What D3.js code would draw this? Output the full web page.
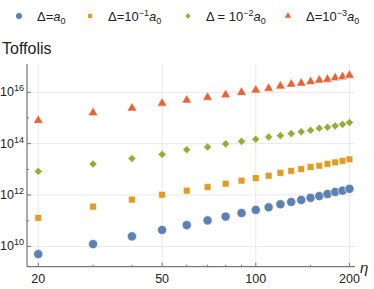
<!DOCTYPE html>
<html>
<head>
<meta charset="utf-8">
<script src="https://d3js.org/d3.v7.min.js"></script>
<style>
  body { margin: 0; background: #fff; }
  text { font-family: "Liberation Sans", Arial, sans-serif; }
</style>
</head>
<body>
<svg width="374" height="289"></svg>
<script>
// eta values (x)
const eta = [20, 30, 40, 50, 60, 70, 80, 90, 100, 110, 120, 130, 140, 150, 160, 170, 180, 190, 200];

// log10 of Toffoli counts
const logA0 = [9.70, 10.09, 10.39, 10.64, 10.83, 11.01, 11.16, 11.30, 11.42, 11.52, 11.64, 11.73, 11.81, 11.89, 11.96, 12.04, 12.12, 12.17, 12.24];
const logA1 = [11.11, 11.55, 11.82, 12.01, 12.17, 12.31, 12.44, 12.56, 12.66, 12.75, 12.86, 12.94, 13.01, 13.09, 13.14, 13.21, 13.27, 13.33, 13.39];
const logA2 = [12.92, 13.21, 13.42, 13.58, 13.76, 13.87, 13.99, 14.09, 14.17, 14.26, 14.31, 14.39, 14.46, 14.52, 14.60, 14.64, 14.69, 14.75, 14.82];
const logA3 = [14.92, 15.22, 15.40, 15.59, 15.71, 15.82, 15.92, 16.01, 16.10, 16.17, 16.26, 16.33, 16.37, 16.43, 16.49, 16.52, 16.58, 16.62, 16.68];

const xMajor = [20, 50, 100, 200];
const xMinor = [30, 40, 60, 70, 80, 90, 150];
const yMajor = [10, 12, 14, 16];
const yMinor = [11, 13, 15];

const series = [
  { vals: logA0, color: "#5E81B5", shape: "circle",   size: 66, label: ["Δ=", "", "a", "0"] },
  { vals: logA1, color: "#E19C24", shape: "square",   size: 46, label: ["Δ=10", "−1", "a", "0"] },
  { vals: logA2, color: "#8FB032", shape: "diamond",  size: 42, label: ["Δ = 10", "−2", "a", "0"] },
  { vals: logA3, color: "#EB6235", shape: "triangle", size: 42, label: ["Δ=10", "−3", "a", "0"] }
];

const svg = d3.select("svg");

const x = d3.scaleLog().domain([18.4, 208.4]).range([27, 355]);
const y = d3.scaleLinear().domain([9.21, 17.1]).range([266.7, 64]);

const symbols = {
  circle: d3.symbolCircle,
  square: d3.symbolSquare,
  diamond: d3.symbolDiamond2,
  triangle: d3.symbolTriangle
};

// grid
svg.append("g").selectAll("line.gx")
  .data(xMajor)
  .join("line")
    .attr("x1", d => x(d)).attr("x2", d => x(d))
    .attr("y1", 64).attr("y2", 266.7)
    .attr("stroke", "#e8e8e8").attr("stroke-width", 1);

svg.append("g").selectAll("line.gy")
  .data(yMajor)
  .join("line")
    .attr("x1", 27).attr("x2", 355)
    .attr("y1", d => y(d)).attr("y2", d => y(d))
    .attr("stroke", "#e8e8e8").attr("stroke-width", 1);

// axes lines
svg.append("line")
    .attr("x1", 27).attr("x2", 27).attr("y1", 64).attr("y2", 266.7)
    .attr("stroke", "#555").attr("stroke-width", 1);
svg.append("line")
    .attr("x1", 27).attr("x2", 355).attr("y1", 266.7).attr("y2", 266.7)
    .attr("stroke", "#555").attr("stroke-width", 1);

// x ticks
svg.append("g").selectAll("line")
  .data(xMajor.map(v => ({ v, len: 4 })).concat(xMinor.map(v => ({ v, len: 2 }))))
  .join("line")
    .attr("x1", d => x(d.v)).attr("x2", d => x(d.v))
    .attr("y1", 266.7).attr("y2", d => 266.7 - d.len)
    .attr("stroke", "#777");

svg.append("g").selectAll("text")
  .data(xMajor)
  .join("text")
    .attr("x", d => x(d)).attr("y", 283)
    .attr("text-anchor", "middle")
    .attr("font-size", 12.5)
    .attr("fill", "#222")
    .text(d => d);

// y ticks
svg.append("g").selectAll("line")
  .data(yMajor.map(v => ({ v, len: 4 })).concat(yMinor.map(v => ({ v, len: 2 }))))
  .join("line")
    .attr("x1", 27).attr("x2", d => 27 + d.len)
    .attr("y1", d => y(d.v)).attr("y2", d => y(d.v))
    .attr("stroke", "#777");

const yl = svg.append("g").selectAll("text")
  .data(yMajor)
  .join("text")
    .attr("x", 24).attr("y", d => y(d) + 4)
    .attr("text-anchor", "end")
    .attr("font-size", 12.5)
    .attr("fill", "#222");
yl.append("tspan").text("10");
yl.append("tspan").attr("font-size", 9).attr("dy", -5).text(d => d);

// axis labels
svg.append("text")
    .attr("x", 2).attr("y", 54)
    .attr("font-size", 16).attr("fill", "#222")
    .text("Toffolis");
svg.append("text")
    .attr("x", 360).attr("y", 273)
    .attr("font-size", 15).attr("font-style", "italic").attr("fill", "#222")
    .text("η");

// points
series.forEach(s => {
  svg.append("g").selectAll("path")
    .data(eta.map((e, i) => ({ e, v: s.vals[i] })))
    .join("path")
      .attr("transform", d => `translate(${x(d.e)},${y(d.v) + (s.shape === "triangle" ? 0.5 : 0)})`)
      .attr("d", d3.symbol().type(symbols[s.shape]).size(s.size))
      .attr("fill", s.color)
      .attr("stroke", "#fff")
      .attr("stroke-opacity", 0.6)
      .attr("stroke-width", 1);
});

// legend
const legX = [19, 90, 188, 288];
series.forEach((s, i) => {
  svg.append("path")
      .attr("transform", `translate(${legX[i]},${16})`)
      .attr("d", d3.symbol().type(symbols[s.shape]).size(s.shape === "circle" ? 28 : 18))
      .attr("fill", s.color);
  const t = svg.append("text")
      .attr("x", legX[i] + 18).attr("y", 21)
      .attr("font-size", 13).attr("fill", "#222");
  t.append("tspan").text(s.label[0]);
  if (s.label[1]) t.append("tspan").attr("font-size", 9).attr("dy", -5).text(s.label[1]);
  t.append("tspan").attr("font-style", "italic").attr("dy", s.label[1] ? 5 : 0).text(s.label[2]);
  t.append("tspan").attr("font-size", 9).attr("dy", 3).text(s.label[3]);
});
</script>
</body>
</html>
